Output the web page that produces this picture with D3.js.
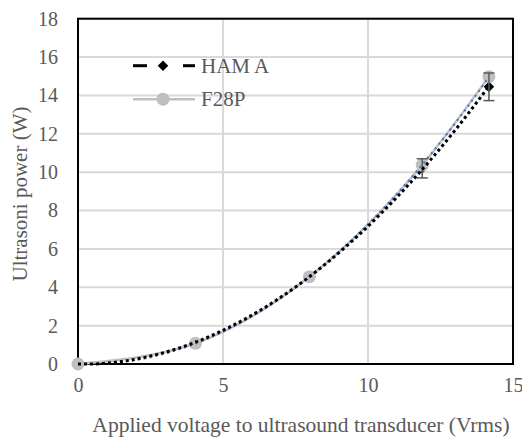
<!DOCTYPE html>
<html>
<head>
<meta charset="utf-8">
<script src="https://cdn.jsdelivr.net/npm/d3@7"></script>
<style>
  body { margin: 0; background: #fff; }
  svg text { font-family: "Liberation Serif", "Times New Roman", serif; fill: #595959; }
</style>
</head>
<body>
<div id="chart"></div>
<script>
// chart values
var voltage = [0, 4.05, 7.98, 11.87, 14.17];
var hamA = [0, 1.1, 4.55, 10.2, 14.45];
var hamAErr = [0, 0, 0, 0.5, 0.72];
var f28p = [0, 1.08, 4.55, 10.37, 14.98];
var xTicks = [0, 5, 10, 15];
var yTicks = [0, 2, 4, 6, 8, 10, 12, 14, 16, 18];
var seriesNames = ["HAM A", "F28P"];

var width = 522, height = 437;
var margin = {top: 18.7, right: 9, bottom: 73, left: 78};
var w = width - margin.left - margin.right,
    h = height - margin.top - margin.bottom;
var serif = "'Liberation Serif', 'Times New Roman', serif";

var svg = d3.select("#chart")
    .append("svg")
    .attr("width", width)
    .attr("height", height);

var g = svg.append("g")
    .attr("transform", "translate(" + margin.left + "," + margin.top + ")");

var x = d3.scaleLinear().domain([0, 15]).range([0, w]);
var y = d3.scaleLinear().domain([0, 18]).range([h, 0]);

// gridlines
g.append("g")
    .selectAll("line")
    .data(yTicks)
    .enter()
    .append("line")
    .attr("x1", 0).attr("x2", w)
    .attr("y1", function (d) { return y(d); })
    .attr("y2", function (d) { return y(d); })
    .attr("stroke", "#d9d9d9")
    .attr("stroke-width", 2);

g.append("g")
    .selectAll("line")
    .data(xTicks)
    .enter()
    .append("line")
    .attr("y1", 0).attr("y2", h)
    .attr("x1", function (d) { return x(d); })
    .attr("x2", function (d) { return x(d); })
    .attr("stroke", "#d9d9d9")
    .attr("stroke-width", 2);

// axes (labels only, frame drawn separately)
var xAxis = g.append("g")
    .attr("transform", "translate(0," + h + ")")
    .call(d3.axisBottom(x).tickValues(xTicks).tickSize(0).tickPadding(14));
var yAxis = g.append("g")
    .call(d3.axisLeft(y).tickValues(yTicks).tickSize(0).tickPadding(20));
[xAxis, yAxis].forEach(function (a) {
    a.attr("font-family", null).attr("font-size", null);
    a.select(".domain").remove();
    a.selectAll("text")
        .style("font-size", "20px")
        .style("font-family", serif)
        .attr("fill", "#595959");
});

// plot frame
g.append("rect")
    .attr("width", w)
    .attr("height", h)
    .attr("fill", "none")
    .attr("stroke", "#000")
    .attr("stroke-width", 2);

var pts = function (vals) {
    return voltage.map(function (v, i) { return [v, vals[i]]; });
};

var smooth = d3.line()
    .curve(d3.curveMonotoneX)
    .x(function (d) { return x(d[0]); })
    .y(function (d) { return y(d[1]); });

// F28P series line (smoothed)
g.append("path")
    .datum(pts(f28p))
    .attr("fill", "none")
    .attr("stroke", "#bfbfbf")
    .attr("stroke-width", 2.5)
    .attr("d", smooth);

// HAM A markers
g.append("g")
    .selectAll("path")
    .data(pts(hamA))
    .enter()
    .append("path")
    .attr("transform", function (d) { return "translate(" + x(d[0]) + "," + y(d[1]) + ")"; })
    .attr("d", d3.symbol().type(d3.symbolDiamond2).size(70))
    .attr("fill", "#000");

// F28P markers
g.append("g")
    .selectAll("circle")
    .data(pts(f28p))
    .enter()
    .append("circle")
    .attr("cx", function (d) { return x(d[0]); })
    .attr("cy", function (d) { return y(d[1]); })
    .attr("r", 6.5)
    .attr("fill", "#bfbfbf");

// error bars on HAM A
var eb = g.append("g")
    .selectAll("g")
    .data(voltage.map(function (v, i) { return {x: v, y: hamA[i], e: hamAErr[i]}; })
        .filter(function (d) { return d.e > 0; }))
    .enter()
    .append("g")
    .attr("stroke", "#595959")
    .attr("stroke-width", 1.5);
eb.append("line")
    .attr("x1", function (d) { return x(d.x); })
    .attr("x2", function (d) { return x(d.x); })
    .attr("y1", function (d) { return y(d.y - d.e); })
    .attr("y2", function (d) { return y(d.y + d.e); });
[-1, 1].forEach(function (s) {
    eb.append("line")
        .attr("x1", function (d) { return x(d.x) - 5.5; })
        .attr("x2", function (d) { return x(d.x) + 5.5; })
        .attr("y1", function (d) { return y(d.y + s * d.e); })
        .attr("y2", function (d) { return y(d.y + s * d.e); });
});

// quadratic least-squares trendline through the measured points
function quadFit(xs, ys) {
    var s = [0, 0, 0, 0, 0], t = [0, 0, 0];
    xs.forEach(function (xv, i) {
        for (var k = 0; k < 5; k++) s[k] += Math.pow(xv, k);
        for (var k2 = 0; k2 < 3; k2++) t[k2] += ys[i] * Math.pow(xv, k2);
    });
    var m = [[s[0], s[1], s[2], t[0]], [s[1], s[2], s[3], t[1]], [s[2], s[3], s[4], t[2]]];
    for (var c = 0; c < 3; c++) {
        for (var r = c + 1; r < 3; r++) {
            var f = m[r][c] / m[c][c];
            for (var k3 = c; k3 < 4; k3++) m[r][k3] -= f * m[c][k3];
        }
    }
    var b = [0, 0, 0];
    for (var r2 = 2; r2 >= 0; r2--) {
        var sum = m[r2][3];
        for (var k4 = r2 + 1; k4 < 3; k4++) sum -= m[r2][k4] * b[k4];
        b[r2] = sum / m[r2][r2];
    }
    return function (xv) { return b[0] + b[1] * xv + b[2] * xv * xv; };
}

function trend(vals, color, widthPx, dash) {
    var fn = quadFit(voltage, vals);
    var xs = d3.range(0, voltage[voltage.length - 1] + 0.001, 0.1);
    g.append("path")
        .datum(xs)
        .attr("fill", "none")
        .attr("stroke", color)
        .attr("stroke-width", widthPx)
        .attr("stroke-dasharray", dash)
        .attr("d", d3.line()
            .x(function (d) { return x(d); })
            .y(function (d) { return y(Math.max(0, fn(d))); }));
}
trend(f28p, "#4472c4", 2, "2,4");
trend(hamA, "#000", 3, "3,3");

// legend
var leg = g.append("g").attr("transform", "translate(55,47)");
leg.append("line").attr("x1", 0).attr("x2", 14).attr("stroke", "#000").attr("stroke-width", 3);
leg.append("line").attr("x1", 50).attr("x2", 62).attr("stroke", "#000").attr("stroke-width", 3);
leg.append("path")
    .attr("transform", "translate(30,0)")
    .attr("d", d3.symbol().type(d3.symbolDiamond2).size(70))
    .attr("fill", "#000");
leg.append("text").attr("x", 68).attr("y", 7).style("font-size", "21px").text(seriesNames[0]);

var leg2 = g.append("g").attr("transform", "translate(55,80.5)");
leg2.append("line").attr("x1", 0).attr("x2", 62).attr("stroke", "#bfbfbf").attr("stroke-width", 2.5);
leg2.append("circle").attr("cx", 30).attr("r", 6.5).attr("fill", "#bfbfbf");
leg2.append("text").attr("x", 68).attr("y", 7).style("font-size", "21px").text(seriesNames[1]);

// axis titles
svg.append("text")
    .attr("x", 301)
    .attr("y", 432)
    .attr("text-anchor", "middle")
    .style("font-size", "21.5px")
    .text("Applied voltage to ultrasound transducer (Vrms)");

svg.append("text")
    .attr("transform", "translate(27,194) rotate(-90)")
    .attr("text-anchor", "middle")
    .style("font-size", "21px")
    .text("Ultrasoni power (W)");
</script>
</body>
</html>
